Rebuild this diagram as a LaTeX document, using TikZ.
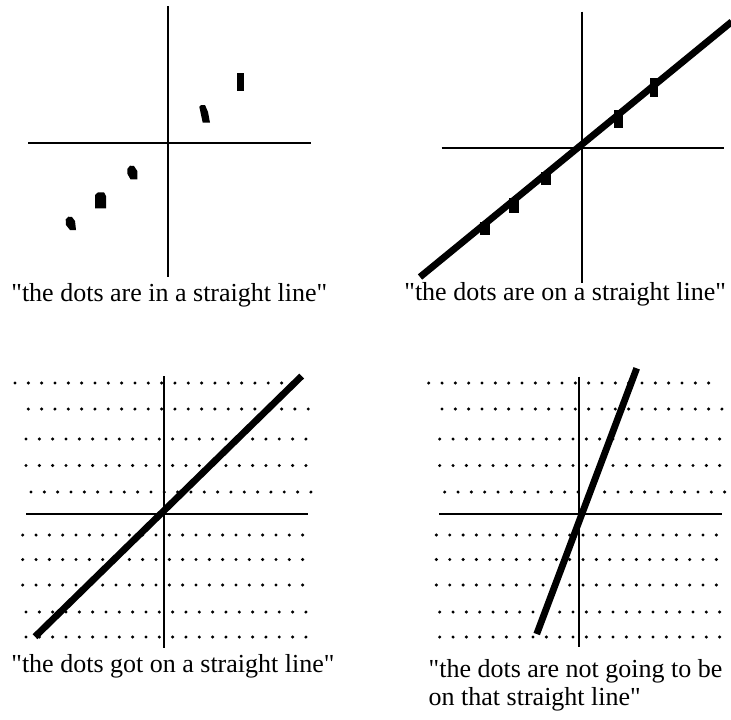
\documentclass[tikz,border=0pt]{standalone}
\usepackage{fontspec}
\setmainfont{Liberation Serif}[Ligatures=TeXOff]
\tikzset{
  axis/.style={line width=1pt},
  fitline/.style={line width=3.4pt},
  caption/.style={font=\fontsize{13}{14}\selectfont,inner sep=0pt,anchor=base west,align=left},
}
\begin{document}
\begin{tikzpicture}[x=0.5pt,y=-0.5pt]
  \useasboundingbox (0,0) rectangle (731,719);
  % dot grid behind the two lower plots
  \foreach \dx in {0,413.7}
    \foreach \y/\xs in {383/15,409/28.3,439/26,465.5/26,492/31,
                        535/22.7,559.5/22.7,585/22.7,612/26,637/26}
      \foreach \i in {0,...,21}
        \fill (\xs+\dx+\i*13.33,\y) circle (0.85pt);
  % top left: dots only
  \draw[axis] (168.3,6) -- (168.3,277);
  \draw[axis] (28.3,143.3) -- (311,143.3);
  \fill (237,73) rectangle (244,91);
  \fill (199.3,106.7) -- (201,105) -- (205,105) -- (208,112) -- (210,122.7) -- (202.7,122.7) -- cycle;
  \fill (127.3,169) -- (130,165.7) -- (134,166) -- (137.3,171) -- (137.3,179.3) -- (130.5,179.3) -- (127.5,174) -- cycle;
  \fill (95,195) -- (98,192.3) -- (104,192.3) -- (106,196) -- (106,208.3) -- (95,208.3) -- cycle;
  \fill (65.7,219.5) -- (68.5,216.7) -- (72,217) -- (75,221) -- (76,230) -- (70,230) -- (66,225) -- cycle;
  \node[caption] (capA) at (11,301) {"the dots are in a straight line"};
  % top right: dots on the line
  \draw[axis] (581.7,11.7) -- (581.7,282.7);
  \draw[axis] (441.7,148.3) -- (724.3,148.3);
  \foreach \xa/\ya/\xb/\yb in {650/78/658/97,614/110/623/128,541/172/551/185,
                               509/198/519/213,480/222/490/235}
    \fill (\xa,\ya) rectangle (\xb,\yb);
  \draw[fitline] (420,277) -- (731.7,21.7);
  \node[caption] (capB) at (404,300) {"the dots are on a straight line"};
  % bottom left
  \draw[axis] (164.3,376) -- (164.3,648.3);
  \draw[axis] (26,514) -- (308.3,514);
  \draw[fitline] (35,636.7) -- (301.7,376);
  \node[caption] (capC) at (11,672) {"the dots got on a straight line"};
  % bottom right
  \draw[axis] (579,376.7) -- (579,647.3);
  \draw[axis] (439.3,514) -- (721.7,514);
  \draw[fitline] (536.7,634) -- (636.7,368.3);
  \node[caption] (capD) at (428.3,705) {"the dots are not going to be\\on that straight line"};
\end{tikzpicture}
\end{document}
